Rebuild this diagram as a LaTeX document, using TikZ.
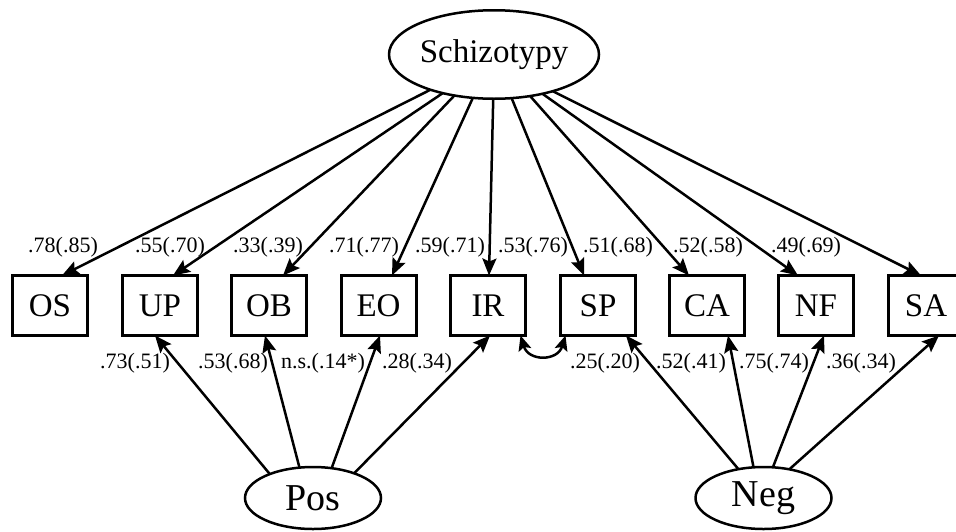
\documentclass[tikz,border=0pt]{standalone}
\usepackage{fontspec}
\setmainfont{Liberation Serif}
\usetikzlibrary{arrows.meta,calc,shapes.geometric}
\begin{document}
\begin{tikzpicture}[x=1pt,y=-1pt,
  obs/.style={draw,line width=3pt,minimum width=75pt,minimum height=60pt,inner sep=0pt,outer sep=0pt,font=\fontsize{33}{36}\selectfont},
  lat/.style={draw,ellipse,line width=2.5pt,inner sep=0pt,outer sep=0pt,font=\fontsize{33}{36}\selectfont},
  bigtext/.style={font=\fontsize{38}{40}\selectfont},
  lbl/.style={font=\fontsize{22}{24}\selectfont,inner sep=0pt},
  arr/.style={line width=2.5pt,-{Stealth[length=17pt,width=14pt,inset=3pt]}},
  darr/.style={line width=2.5pt,{Stealth[length=15pt,width=13pt,inset=3pt]}-{Stealth[length=15pt,width=13pt,inset=3pt]}},
  ]
\useasboundingbox (0,0) rectangle (956,531);
% latent variables
\node[lat,minimum width=175.5pt,minimum height=88.5pt] (S) at (494,54.5) {Schizotypy};
\node[lat,bigtext,minimum width=136pt,minimum height=62pt] (Pos) at (313,498) {Pos};
\node[lat,bigtext,minimum width=136pt,minimum height=62pt] (Neg) at (763.5,498) {Neg};
% observed
\node[obs] (OS) at (50,305.5) {OS};
\node[obs] (UP) at (160,305.5) {UP};
\node[obs] (OB) at (269,305.5) {OB};
\node[obs] (EO) at (378.5,305.5) {EO};
\node[obs] (IR) at (488,305.5) {IR};
\node[obs] (SP) at (598,305.5) {SP};
\node[obs] (CA) at (707,305.5) {CA};
\node[obs] (NF) at (816,305.5) {NF};
\node[obs] (SA) at (926,305.5) {SA};
% Schizotypy loadings
\draw[arr] (S.209.4) -- ($(OS.north)+(12,0)$);
\draw[arr] (S.217.6) -- ($(UP.north)+(13,0)$);
\draw[arr] (S.226.4) -- ($(OB.north)+(14,0)$);
\draw[arr] (S.244.4) -- ($(EO.north)+(13.5,0)$);
\draw[arr] (S.269) -- ($(IR.north)+(1,0)$);
\draw[arr] (S.292.4) -- ($(SP.north)+(-14,0)$);
\draw[arr] (S.311.5) -- ($(CA.north)+(-18,0)$);
\draw[arr] (S.321.9) -- ($(NF.north)+(-18,0)$);
\draw[arr] (S.328.8) -- ($(SA.north)+(-5,0)$);
% Pos loadings
\draw[arr] (Pos.151) -- ($(UP.south)+(-5,0)$);
\draw[arr] (Pos.114) -- ($(OB.south)+(-4,0)$);
\draw[arr] (Pos.58) -- ($(EO.south)+(1.5,0)$);
\draw[arr] (Pos.31) -- ($(IR.south)+(2,0)$);
% Neg loadings
\draw[arr] (Neg.131.5) -- ($(SP.south)+(28,0)$);
\draw[arr] (Neg.108) -- ($(CA.south)+(21,0)$);
\draw[arr] (Neg.73.5) -- ($(NF.south)+(8,0)$);
\draw[arr] (Neg.48.5) -- ($(SA.south)+(13,0)$);
% residual covariance
\coordinate (irc) at ($(IR.south east)+(-5,0)$);
\coordinate (spc) at ($(SP.south west)+(5,0)$);
\draw[darr] (irc) .. controls +(8,26) and +(-8,26) .. (spc);
% labels upper
\node[lbl] (l1) at (63,247) {.78(.85)};
\node[lbl] (l2) at (170,247) {.55(.70)};
\node[lbl] (l3) at (268,247) {.33(.39)};
\node[lbl] (l4) at (364,247) {.71(.77)};
\node[lbl] (l5) at (450,247) {.59(.71)};
\node[lbl] (l6) at (533,247) {.53(.76)};
\node[lbl] (l7) at (618,247) {.51(.68)};
\node[lbl] (l8) at (708,247) {.52(.58)};
\node[lbl] (l9) at (806,247) {.49(.69)};
% labels lower
\node[lbl] (m1) at (135,363) {.73(.51)};
\node[lbl] (m2) at (233,363) {.53(.68)};
\node[lbl] (m3) at (323,363) {n.s.(.14*)};
\node[lbl] (m4) at (417,363) {.28(.34)};
\node[lbl] (m5) at (605,363) {.25(.20)};
\node[lbl] (m6) at (691,363) {.52(.41)};
\node[lbl] (m7) at (774,363) {.75(.74)};
\node[lbl] (m8) at (861,363) {.36(.34)};
\end{tikzpicture}
\end{document}
